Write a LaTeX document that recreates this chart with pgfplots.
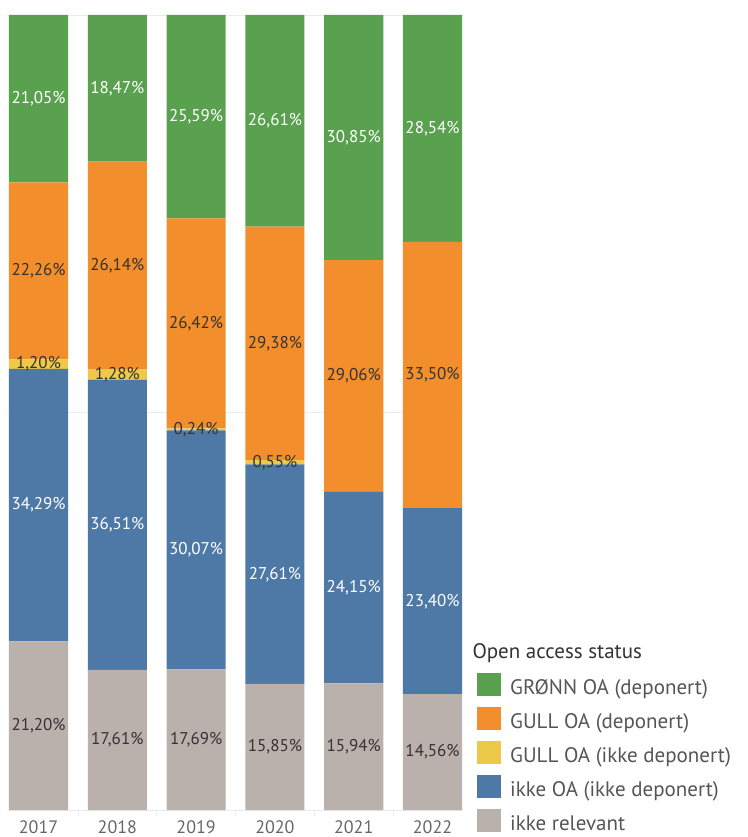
\documentclass[border=0pt]{standalone}
\usepackage{pgfplots}
\pgfplotsset{compat=1.18}
\usepackage{fontspec}
\setmainfont{PT Sans}
\definecolor{cgreen}{HTML}{59A14F}
\definecolor{corange}{HTML}{F28E2B}
\definecolor{cyellow}{HTML}{EDC948}
\definecolor{cblue}{HTML}{4E79A7}
\definecolor{cgray}{HTML}{BAB0AC}
\definecolor{lbl}{HTML}{333333}
\definecolor{tickc}{HTML}{666666}
\definecolor{legc}{HTML}{555555}
\definecolor{gridc}{HTML}{EBEBEB}
\begin{document}
\begin{tikzpicture}
\useasboundingbox (0,0) rectangle (747pt,837pt);
\begin{axis}[
  at={(7pt,27pt)}, anchor=south west,
  scale only axis, width=456pt, height=795pt,
  ybar stacked, bar width=0.75,
  legend image code/.code={\fill[#1] (0pt,-1pt) rectangle (24pt,22pt);},
  xmin=-0.4, xmax=5.387, ymin=0, ymax=100,
  enlargelimits=false, clip=false,
  xtick={0,1,2,3,4,5}, xticklabels={2017,2018,2019,2020,2021,2022},
  minor xtick={0.5,1.5,2.5,3.5,4.5},
  ytick={0,50,100}, yticklabels={},
  ymajorgrids, grid style={draw=gridc, line width=0.8pt},
  axis line style={draw=none},
  major tick length=0pt, minor tick length=6pt, tick align=outside,
  xtick pos=bottom, ytick pos=left,
  minor tick style={draw=gridc, line width=0.8pt},
  xticklabel style={anchor=base, inner sep=0pt, yshift=-23pt, text=tickc, font=\fontsize{18}{21}\selectfont},
  /pgf/number format/assume math mode=true,
  point meta=explicit symbolic,
  nodes near coords,
  every node near coord/.append style={anchor=center, inner sep=0pt,
     font=\fontsize{17}{20}\selectfont},
  reverse legend,
  legend style={at={(axis description cs:1.030,-0.0277)}, anchor=south west,
     draw=none, fill=none, inner sep=0pt, row sep=11pt, column sep=9.3pt,
     cells={anchor=base west}, nodes={inner sep=0pt, text depth=0pt, text=legc},
     font=\fontsize{21}{25}\selectfont},
]
\addplot[fill=cgray, draw=none, every node near coord/.append style={text=lbl}] coordinates {
 (0,21.20) [21,20\%] (1,17.61) [17,61\%] (2,17.69) [17,69\%]
 (3,15.85) [15,85\%] (4,15.94) [15,94\%] (5,14.56) [14,56\%]};
\addlegendentry{ikke relevant}
\addplot[fill=cblue, draw=none, every node near coord/.append style={text=white}] coordinates {
 (0,34.29) [34,29\%] (1,36.51) [36,51\%] (2,30.07) [30,07\%]
 (3,27.61) [27,61\%] (4,24.15) [24,15\%] (5,23.40) [23,40\%]};
\addlegendentry{ikke OA (ikke deponert)}
\addplot[fill=cyellow, draw=none, every node near coord/.append style={text=lbl}] coordinates {
 (0,1.20) [1,20\%] (1,1.28) [1,28\%] (2,0.24) [0,24\%]
 (3,0.55) [0,55\%] (4,0) [] (5,0) []};
\addlegendentry{GULL OA (ikke deponert)}
\addplot[fill=corange, draw=none, every node near coord/.append style={text=lbl}] coordinates {
 (0,22.26) [22,26\%] (1,26.14) [26,14\%] (2,26.42) [26,42\%]
 (3,29.38) [29,38\%] (4,29.06) [29,06\%] (5,33.50) [33,50\%]};
\addlegendentry{GULL OA (deponert)}
\addplot[fill=cgreen, draw=none, every node near coord/.append style={text=white}] coordinates {
 (0,21.05) [21,05\%] (1,18.47) [18,47\%] (2,25.59) [25,59\%]
 (3,26.61) [26,61\%] (4,30.85) [30,85\%] (5,28.54) [28,54\%]};
\addlegendentry{GRØNN OA (deponert)}
\node[anchor=base west, inner sep=0pt, text=lbl, font=\fontsize{21}{25}\selectfont]
  at (axis description cs:1.0204,0.190) {Open access status};
\end{axis}
\end{tikzpicture}
\end{document}
